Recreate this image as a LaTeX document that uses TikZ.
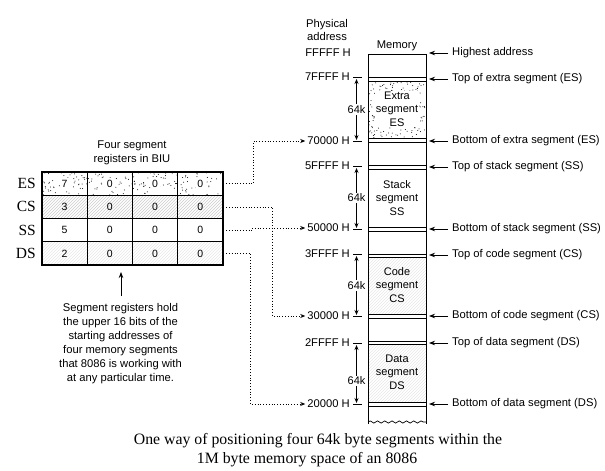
\documentclass[tikz,border=0pt]{standalone}
\usepackage{fontspec}
\setmainfont{Liberation Serif}
\setsansfont{Liberation Sans}
\usetikzlibrary{arrows.meta,patterns,decorations.pathmorphing}
\begin{document}
\begin{tikzpicture}[x=1pt,y=-1pt,
  lab/.style={font=\sffamily\fontsize{11.2}{13}\selectfont, inner sep=0pt},
  addr/.style={lab, anchor=east},
  rlab/.style={lab, anchor=west},
  seg/.style={align=center, inner sep=1pt, font=\sffamily\fontsize{11}{13.5}\selectfont},
  cell/.style={draw, minimum width=45.25pt, minimum height=23.25pt, inner sep=0pt, line width=0.6pt},
  digit/.style={inner sep=1.5pt, font=\sffamily\fontsize{10.5}{12}\selectfont},
  reg/.style={font=\fontsize{15.5}{16}\selectfont, anchor=east, inner sep=0pt},
  tip/.style={-{Stealth[length=6pt,width=4.5pt]}},
  dtip/.style={{Stealth[length=5pt,width=4pt]}-{Stealth[length=5pt,width=4pt]}},
  conn/.style={dotted, line width=0.8pt, -{Stealth[length=5pt,width=4pt]}, shorten >=2pt},
  hatchA/.style={pattern=north east lines, pattern color=gray!40},
  hatchB/.style={pattern=north east lines, pattern color=gray!18},
  kay/.style={fill=white, inner sep=1pt, font=\sffamily\fontsize{11}{12}\selectfont}
]
\useasboundingbox (0,0) rectangle (605,471);
\fill[white] (0,0) rectangle (605,471);

% ---------------- register table ----------------
\node[lab, align=center, font=\sffamily\fontsize{11.2}{14}\selectfont] (title) at (132,153) {Four segment\\registers in BIU};

\pgfmathsetseed{11}
\foreach \k in {1,...,170} \fill ({42.5+180*rnd},{172.5+22.5*rnd}) circle (0.5pt);

\foreach \c/\x in {1/64.6,2/109.9,3/155.1,4/200.4}{
  \node[cell] (es\c) at (\x,183.6) {};
  \node[cell, hatchA] (cs\c) at (\x,206.9) {};
  \node[cell] (ss\c) at (\x,230.1) {};
  \node[cell, hatchB] (ds\c) at (\x,253.4) {};
}
\node[digit, fill=white] at (es1) {7};
\node[digit, fill=white] at (es2) {0};
\node[digit, fill=white] at (es3) {0};
\node[digit, fill=white] at (es4) {0};
\node[digit] at (cs1) {3};
\node[digit] at (cs2) {0};
\node[digit] at (cs3) {0};
\node[digit] at (cs4) {0};
\node[digit] at (ss1) {5};
\node[digit] at (ss2) {0};
\node[digit] at (ss3) {0};
\node[digit] at (ss4) {0};
\node[digit] at (ds1) {2};
\node[digit] at (ds2) {0};
\node[digit] at (ds3) {0};
\node[digit] at (ds4) {0};
\draw[line width=1.1pt] (42,172) rectangle (223,265);

\node[reg] (lES) at (36,183.6) {ES};
\node[reg] (lCS) at (36,206.9) {CS};
\node[reg] (lSS) at (36,230.1) {SS};
\node[reg] (lDS) at (36,253.4) {DS};

\node[lab, align=center, font=\sffamily\fontsize{11.2}{14}\selectfont] (note) at (120.5,344)
  {Segment registers hold\\the upper 16 bits of the\\starting addresses of\\four memory segments\\that 8086 is working with\\at any particular time.};
\coordinate (upA) at (121,296);
\coordinate (upB) at (121,272);
\draw[tip, line width=0.8pt] (upA) -- (upB);

% ---------------- memory column ----------------
\node[lab, align=center, font=\sffamily\fontsize{11.2}{13}\selectfont] (phys) at (327,30) {Physical\\address};
\node[lab] (memlab) at (397,46) {Memory};

\pgfmathsetseed{5}
\foreach \k in {1,...,190} \fill ({369+56*rnd},{82+55.5*rnd}) circle (0.5pt);
\fill[hatchB] (368,257) rectangle (426,314);
\fill[hatchB] (368,344) rectangle (426,402);

\draw[line width=0.8pt] (368,424) -- (368,54) -- (426,54) -- (426,424);
\draw[line width=0.7pt, decorate, decoration={snake, segment length=7.25pt, amplitude=1.1pt}] (368,422) -- (426,422);
\foreach \y in {77,81,138,142,165,169,227,231,254,257,314,318,341,344,402,406}
  \draw[line width=0.8pt] (368,\y) -- (426,\y);

\node[seg, fill=white] (segES) at (397,109) {Extra\\segment\\ES};
\node[seg] (segSS) at (397,198) {Stack\\segment\\SS};
\node[seg] (segCS) at (397,285) {Code\\segment\\CS};
\node[seg] (segDS) at (397,372) {Data\\segment\\DS};

% addresses
\node[addr] (aF)  at (351,53)  {FFFFF H};
\node[addr] (a7F) at (350,77)  {7FFFF H};
\node[addr] (a70) at (350,141) {70000 H};
\node[addr] (a5F) at (350,166) {5FFFF H};
\node[addr] (a50) at (350,228) {50000 H};
\node[addr] (a3F) at (350,254) {3FFFF H};
\node[addr] (a30) at (350,316) {30000 H};
\node[addr] (a2F) at (350,343) {2FFFF H};
\node[addr] (a20) at (350,404) {20000 H};
\foreach \y in {77,141,166,229,254,316,343,404}
  \draw[line width=0.6pt] (353,\y) -- (362,\y);

% 64k arrows
\draw[dtip, line width=0.8pt] (356.5,79) -- (356.5,140) node[kay, pos=0.5] {64k};
\draw[dtip, line width=0.8pt] (356.5,168) -- (356.5,228) node[kay, pos=0.5] {64k};
\draw[dtip, line width=0.8pt] (356.5,256) -- (356.5,315) node[kay, pos=0.5] {64k};
\draw[dtip, line width=0.8pt] (356.5,345) -- (356.5,403) node[kay, pos=0.62] {64k};

% right labels
\node[rlab] (rH)  at (452,53)  {Highest address};
\node[rlab] (rTE) at (452,79)  {Top of extra segment (ES)};
\node[rlab] (rBE) at (452,141) {Bottom of extra segment (ES)};
\node[rlab] (rTS) at (452,167) {Top of stack segment (SS)};
\node[rlab] (rBS) at (452,229) {Bottom of stack segment (SS)};
\node[rlab] (rTC) at (452,255) {Top of code segment (CS)};
\node[rlab] (rBC) at (452,316) {Bottom of code segment (CS)};
\node[rlab] (rTD) at (452,343) {Top of data segment (DS)};
\node[rlab] (rBD) at (452,404) {Bottom of data segment (DS)};
\foreach \n in {rH,rTE,rBE,rTS,rBS,rTC,rBC,rTD,rBD}
  \draw[tip, line width=0.8pt] ([xshift=-4pt]\n.west) -- ++(-19,0);

% dotted connectors
\draw[conn] (es4.east) -- ++(30,0) |- (a70.west);
\draw[conn] (cs4.east) -- ++(49,0) |- (a30.west);
\draw[conn] (ss4.east) -- ++(29,0) |- (a50.west);
\draw[conn] (ds4.east) -- ++(27,0) |- (a20.west);

% caption
\node[font=\fontsize{15.8}{18}\selectfont, inner sep=0pt] (cap1) at (318,441) {One way of positioning four 64k byte segments within the};
\node[font=\fontsize{15.8}{18}\selectfont, inner sep=0pt] (cap2) at (307,460) {1M byte memory space of an 8086};
\end{tikzpicture}
\end{document}
